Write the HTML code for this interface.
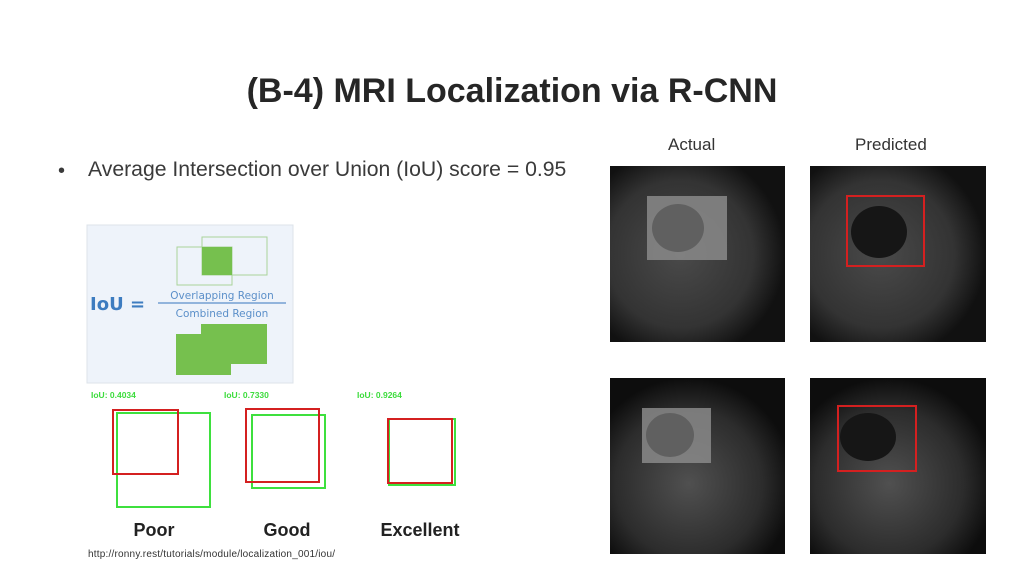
<!DOCTYPE html>
<html><head><meta charset="utf-8"><style>
body{margin:0;width:1024px;height:576px;background:#fff;overflow:hidden;position:relative;font-family:"Liberation Sans",Arial,sans-serif}
.a{position:absolute}
</style></head><body>
<div class="a" style="left:0;width:1024px;top:72px;text-align:center;font-size:34px;font-weight:bold;color:#262626;padding-left:0">(B-4) MRI Localization via R-CNN</div>
<div class="a" style="left:58px;top:160px;font-size:20px;color:#3a3a3a">•</div>
<div class="a" style="left:88px;top:158px;font-size:21.2px;color:#3a3a3a">Average Intersection over Union (IoU) score = 0.95</div>
<div class="a" style="left:668px;top:135px;font-size:17px;color:#333">Actual</div>
<div class="a" style="left:855px;top:135px;font-size:17px;color:#333">Predicted</div>

<svg class="a" style="left:0;top:0" width="1024" height="576">
<defs>
<radialGradient id="m1" cx="0.4" cy="0.5" r="0.6"><stop offset="0" stop-color="#4a4a4a"/><stop offset="0.7" stop-color="#333"/><stop offset="1" stop-color="#111"/></radialGradient>
<radialGradient id="m2" cx="0.45" cy="0.6" r="0.6"><stop offset="0" stop-color="#505050"/><stop offset="0.7" stop-color="#2c2c2c"/><stop offset="1" stop-color="#0d0d0d"/></radialGradient>
</defs>
<rect x="87" y="225" width="206" height="158" fill="#eef3fa" stroke="#dde3ea"/>
<rect x="177" y="247" width="55" height="38" fill="none" stroke="#a9d39a"/>
<rect x="202" y="237" width="65" height="38" fill="none" stroke="#a9d39a"/>
<rect x="202" y="247" width="30" height="28" fill="#76c04e"/>
<rect x="176" y="334" width="55" height="41" fill="#76c04e"/>
<rect x="201" y="324" width="66" height="40" fill="#76c04e"/>
<text x="90" y="310" font-size="18" font-weight="bold" fill="#3d7cc0" font-family="DejaVu Sans">IoU =</text>
<line x1="158" y1="303" x2="286" y2="303" stroke="#5b8fc9" stroke-width="1.3"/>
<text x="222" y="299" font-size="10.5" fill="#5b8fc9" text-anchor="middle" font-family="DejaVu Sans">Overlapping Region</text>
<text x="222" y="317" font-size="10.5" fill="#5b8fc9" text-anchor="middle" font-family="DejaVu Sans">Combined Region</text>
<g font-size="8.5" font-weight="bold" fill="#3ddc3d"><text x="91" y="398">IoU: 0.4034</text><text x="224" y="398">IoU: 0.7330</text><text x="357" y="398">IoU: 0.9264</text></g>
<g fill="none" stroke-width="2">
<rect x="117" y="413" width="93" height="94" stroke="#3ee03e"/><rect x="113" y="410" width="65" height="64" stroke="#d42020"/>
<rect x="252" y="415" width="73" height="73" stroke="#3ee03e"/><rect x="246" y="409" width="73" height="73" stroke="#d42020"/>
<rect x="389" y="419" width="66" height="66" stroke="#3ee03e"/><rect x="388" y="419" width="64" height="64" stroke="#d42020"/>
</g>
<g font-size="18" font-weight="bold" fill="#222" text-anchor="middle"><text x="154" y="536">Poor</text><text x="287" y="536">Good</text><text x="420" y="536">Excellent</text></g>
<text x="88" y="557" font-size="10" fill="#333" textLength="247">http://ronny.rest/tutorials/module/localization_001/iou/</text>

<rect x="610" y="166" width="175" height="176" fill="url(#m1)"/>
<rect x="810" y="166" width="176" height="176" fill="url(#m1)"/>
<rect x="610" y="378" width="175" height="176" fill="url(#m2)"/>
<rect x="810" y="378" width="176" height="176" fill="url(#m2)"/>
<rect x="647" y="196" width="80" height="64" fill="#8a8a8a" opacity="0.85"/>
<ellipse cx="678" cy="228" rx="26" ry="24" fill="#606060"/>
<ellipse cx="879" cy="232" rx="28" ry="26" fill="#161616"/>
<rect x="847" y="196" width="77" height="70" fill="none" stroke="#d42020" stroke-width="2"/>
<rect x="642" y="408" width="69" height="55" fill="#8a8a8a" opacity="0.85"/>
<ellipse cx="670" cy="435" rx="24" ry="22" fill="#606060"/>
<ellipse cx="868" cy="437" rx="28" ry="24" fill="#161616"/>
<rect x="838" y="406" width="78" height="65" fill="none" stroke="#d42020" stroke-width="2"/>
</svg>
</body></html>
